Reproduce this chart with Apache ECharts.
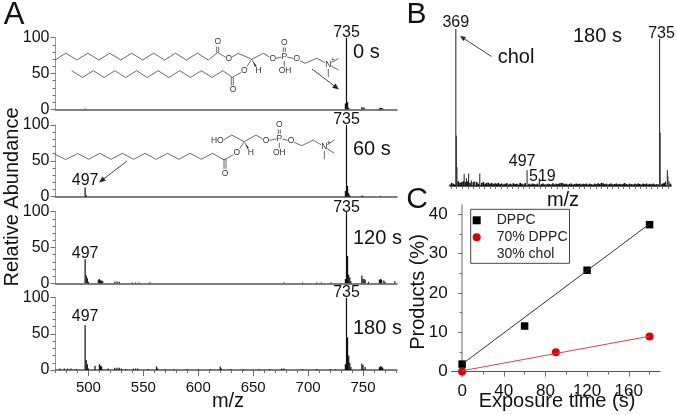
<!DOCTYPE html>
<html>
<head>
<meta charset="utf-8">
<script src="https://cdn.jsdelivr.net/npm/echarts@6/dist/echarts.min.js"></script>
<style>
  html, body { margin: 0; background: #fff; }
  #chart { width: 677px; height: 415px; }
</style>
</head>
<body>
<div id="chart"></div>
<script>
// panel A spectra, [m/z, relative abundance]
const spectrum0s = [[497, 1], [734, 8], [735, 100], [736, 10], [737, 2], [749, 3], [750, 2.5], [751, 2],
  [765, 1.5], [766, 2], [767, 1.8], [768, 1]];
const spectrum60s = [[497, 13], [498, 2], [734, 8], [735, 100], [736, 15], [737, 5], [738, 2], [749, 1.5], [750, 1], [766, 1]];
const spectrum120s = [[497, 33.5], [498, 11], [499, 7], [500, 2], [509, 5], [510, 6], [511, 4], [512, 4], [513, 3],
  [524, 2], [526, 2.5], [528, 2], [540, 1], [543, 1], [546, 1], [556, 1.5], [678, 1], [695, 1], [708, 1], [712, 1], [721, 1],
  [734, 6], [735, 100], [736, 38], [737, 12], [738, 8], [739, 3], [749, 11], [750, 6], [751, 6], [752, 5], [755, 2],
  [765, 5], [766, 6], [767, 5], [769, 4], [770, 2], [779, 3]];
const spectrum180s = [[474, 2], [478, 2], [481, 2], [484, 2], [489, 1.5], [497, 62], [498, 14], [499, 8], [500, 2],
  [506, 6], [510, 8], [511, 6], [512, 5], [518, 2], [524, 3], [526, 3], [528, 3], [530, 2], [534, 1.5], [541, 2], [543, 2], [545, 2],
  [554, 1.5], [562, 5], [563, 2], [570, 1], [578, 1], [590, 1], [600, 1], [611, 1], [620, 5], [621, 2], [630, 1], [641, 1], [655, 1], [665, 1],
  [676, 2], [678, 2], [695, 1], [708, 1.5], [720, 1.5], [725, 1], [734, 8], [735, 100], [736, 45], [737, 20], [738, 10], [739, 4],
  [749, 9], [750, 7], [752, 4], [765, 4], [766, 5], [767, 5], [768, 3]];
// panel B spectrum
const spectrumB = [[369, 100], [370, 32], [371, 12], [384, 7.6], [388, 5], [392, 8], [397, 3.5], [403, 3], [412, 8], [497, 10], [519, 5],
  [735, 94], [736, 34], [746, 3], [749, 10], [750, 6], [752, 3]];
const noiseB = [[358, 1], [361, 2], [364, 1.5], [367, 1], [373, 3], [376, 2], [379, 2.5], [382, 3], [386, 2.5], [390, 3], [394, 2], [400, 2.5],
  [406, 2.5], [409, 1.5], [415, 2], [418, 2.5], [421, 1.5], [424, 2], [427, 2.2], [430, 1.5], [433, 2], [436, 1.2], [439, 1.8], [442, 1.5], [445, 2],
  [448, 1.2], [451, 1.6], [454, 1], [457, 1.5], [460, 1.8], [463, 1], [466, 1.4], [469, 1], [472, 1.8], [475, 1.2], [478, 1.5], [481, 1], [484, 2],
  [487, 1.5], [490, 1], [493, 1.8], [500, 1.5], [503, 1], [506, 1.6], [509, 1.2], [512, 1], [515, 1.5], [522, 1.2], [525, 1.6], [528, 1], [531, 1],
  [534, 1.5], [537, 1.2], [540, 1], [543, 1.8], [546, 1], [549, 1.5], [552, 1.2], [555, 1.7], [558, 2], [561, 1.8], [564, 1.2], [567, 1.5], [570, 1],
  [573, 1.4], [576, 1.6], [579, 1], [582, 1.3], [585, 1.6], [588, 1.2], [591, 1.5], [594, 1], [597, 1.4], [600, 1.2], [603, 1.6], [606, 1],
  [609, 1.5], [612, 1.2], [615, 1], [618, 1.5], [621, 1.2], [624, 1.7], [627, 1.3], [630, 2], [633, 1.7], [636, 1.2], [639, 1.5], [642, 1], [645, 1.4],
  [648, 1.6], [651, 1], [654, 1.3], [657, 1.6], [660, 1.1], [663, 1.4], [666, 1], [669, 1.5], [672, 1.8], [675, 1.3], [678, 1], [681, 1.5], [684, 1.2],
  [687, 1], [690, 1.5], [693, 1.1], [696, 1.6], [699, 1.3], [702, 1], [705, 1.5], [708, 1.2], [711, 1.6], [714, 1], [717, 1.4], [720, 1.1], [723, 1.5],
  [726, 1], [729, 1.2], [732, 1], [739, 1.5], [742, 1.8], [744, 2], [754, 1.5]];
// panel C
const dppcTimes = [0, 60, 120, 180];
const dppcValues = [1.9, 11.6, 25.8, 37.4];
const cholTimes = [0, 90, 180];
const cholValues = [0, 4.9, 8.9];
const dppcFit = [[0, 1.9], [180, 37.6]];
const cholFit = [[0, 0.2], [180, 9]];

const massTicks = [500, 550, 600, 650, 700, 750];
const massMinorTicks = [470, 480, 490, 510, 520, 530, 540, 560, 570, 580, 590, 610, 620, 630, 640, 660, 670, 680, 690, 710, 720, 730, 740, 760, 770, 780];
const bMinorTicks = [360, 370, 380, 390, 400, 410, 420, 430, 440, 450, 460, 470, 480, 490, 500, 510, 520, 530, 540, 550, 560, 570, 580, 590,
  600, 610, 620, 630, 640, 650, 660, 670, 680, 690, 700, 710, 720, 730, 740, 750];
const timeTicks = [0, 40, 80, 120, 160];
const timeMinorTicks = [20, 60, 100, 140, 180];
const productTicks = [0, 10, 20, 30, 40];
const productMinorTicks = [5, 15, 25, 35];

const FONT = '"Liberation Sans", Arial, sans-serif';
const INK = '#111';
const AXIS = '#6e6e6e';

const rows = [
  { data: spectrum0s, top: 37.7, height: 71.6, labels: { 735: [0, 3] } },
  { data: spectrum60s, top: 125, height: 71.7, labels: { 497: [0, 1], 735: [0, 3] } },
  { data: spectrum120s, top: 211.7, height: 71.6, labels: { 497: [0, 2], 735: [0, 4] } },
  { data: spectrum180s, top: 297.7, height: 72.3, labels: { 497: [0, -1], 735: [0, 3] } }
];

function withLabels(data, labels) {
  return data.map(([x, y]) => {
    if (!labels[x]) return [x, y];
    return {
      value: [x, y],
      label: { show: true, position: 'top', distance: 0, offset: labels[x], formatter: String(x), fontFamily: FONT, fontSize: 16, color: INK }
    };
  });
}

const grid = [], xAxis = [], yAxis = [], series = [];

// panel A rows
rows.forEach((row, i) => {
  const last = i === rows.length - 1;
  grid.push({ left: 55.5, width: 341.5, top: row.top, height: row.height });
  xAxis.push({
    type: 'value', gridIndex: i, min: 470, max: 781, position: 'bottom', splitLine: { show: false },
    axisLine: { lineStyle: { color: '#555', width: 1.5 } },
    axisTick: last ? { show: true, customValues: massTicks, length: 6, lineStyle: { color: AXIS } } : { show: false },
    axisLabel: last ? { show: true, customValues: massTicks, margin: 10, fontFamily: FONT, fontSize: 15, color: INK } : { show: false }
  });
  yAxis.push({
    type: 'value', gridIndex: i, min: 0, max: 100, interval: 50, splitLine: { show: false },
    axisLine: { show: true, lineStyle: { color: '#999' } },
    axisTick: { show: true, length: 5, lineStyle: { color: AXIS } },
    minorTick: { show: true, splitNumber: 5, length: 3, lineStyle: { color: AXIS } },
    axisLabel: { margin: 6, fontFamily: FONT, fontSize: 16, color: INK }
  });
  series.push({
    type: 'bar', xAxisIndex: i, yAxisIndex: i, barWidth: 1.2, silent: true, animation: false,
    itemStyle: { color: '#111' }, data: withLabels(row.data, row.labels)
  });
});

// minor ticks under the bottom row
xAxis.push({
  type: 'value', gridIndex: 3, min: 470, max: 781, position: 'bottom', splitLine: { show: false },
  axisLine: { show: false }, axisLabel: { show: false },
  axisTick: { show: true, customValues: massMinorTicks, length: 3, lineStyle: { color: AXIS } }
});

// panel B
grid.push({ left: 450, width: 221, top: 29, height: 157 });
xAxis.push({
  type: 'value', gridIndex: 4, min: 358, max: 755, position: 'bottom', splitLine: { show: false },
  axisLine: { lineStyle: { color: '#222', width: 1.5 } }, axisLabel: { show: false },
  axisTick: { show: true, customValues: bMinorTicks, length: 3, lineStyle: { color: AXIS } }
});
yAxis.push({ type: 'value', gridIndex: 4, min: 0, max: 100, show: false });
series.push({
  type: 'bar', xAxisIndex: 5, yAxisIndex: 4, barWidth: 1.1, barGap: '-100%', silent: true, animation: false,
  itemStyle: { color: '#333' },
  data: withLabels(spectrumB, { 369: [0, 2], 497: [-5, -1], 519: [3, 6], 735: [2, 3] })
});
series.push({
  type: 'bar', xAxisIndex: 5, yAxisIndex: 4, barWidth: 1.7, barGap: '-100%', silent: true, animation: false,
  itemStyle: { color: '#111' }, data: noiseB
});

// panel C
grid.push({ left: 451.7, width: 208.3, top: 205, height: 171.7 });
const cx = { type: 'value', gridIndex: 5, min: -10, max: 190, position: 'bottom', splitLine: { show: false } };
const cy = { type: 'value', gridIndex: 5, min: -1.3, max: 42.4, position: 'left', splitLine: { show: false } };
xAxis.push(Object.assign({}, cx, {
  axisLine: { lineStyle: { color: '#555', width: 1.2 } },
  axisTick: { show: true, customValues: timeTicks, length: 5, lineStyle: { color: AXIS } },
  axisLabel: { show: true, customValues: timeTicks, margin: 6, fontFamily: FONT, fontSize: 17, color: INK }
}));
xAxis.push(Object.assign({}, cx, {
  axisLine: { show: false }, axisLabel: { show: false },
  axisTick: { show: true, customValues: timeMinorTicks, length: 3, lineStyle: { color: AXIS } }
}));
yAxis.push(Object.assign({}, cy, {
  axisLine: { show: true, lineStyle: { color: '#999', width: 1.5 } },
  axisTick: { show: true, customValues: productTicks, length: 4, lineStyle: { color: AXIS } },
  axisLabel: { show: true, customValues: productTicks, margin: 4, fontFamily: FONT, fontSize: 17, color: INK }
}));
yAxis.push(Object.assign({}, cy, {
  axisLine: { show: false }, axisLabel: { show: false },
  axisTick: { show: true, customValues: productMinorTicks, length: 2.5, lineStyle: { color: AXIS } }
}));
const cFit = (data, color) => ({
  type: 'line', xAxisIndex: 6, yAxisIndex: 5, data, symbol: 'none', silent: true, animation: false,
  lineStyle: { color, width: 1 }
});
series.push(cFit(dppcFit, '#333'));
series.push(cFit(cholFit, '#d0494a'));
series.push({
  name: 'DPPC', type: 'scatter', xAxisIndex: 6, yAxisIndex: 5, symbol: 'rect', symbolSize: 7.5, silent: true, animation: false,
  itemStyle: { color: '#000', opacity: 1 }, data: dppcTimes.map((t, i) => [t, dppcValues[i]])
});
series.push({
  name: '70% DPPC', type: 'scatter', xAxisIndex: 6, yAxisIndex: 5, symbol: 'circle', symbolSize: 8, silent: true, animation: false,
  itemStyle: { color: '#d7000f', opacity: 1 }, data: cholTimes.map((t, i) => [t, cholValues[i]])
});
// keeps the second line of the mixture name in the legend
series.push({ name: '30% chol', type: 'scatter', xAxisIndex: 6, yAxisIndex: 5, data: [], itemStyle: { color: 'transparent' } });

// structure drawings and annotations, page pixels
const bonds = [];
function bond(points, width) {
  bonds.push({ type: 'polyline', silent: true, z: 5, shape: { points }, style: { stroke: '#444', lineWidth: width || 0.8, fill: null } });
}
function zigzag(x, y, dx, dy, n) {
  const pts = [];
  for (let i = 0; i < n; i++) pts.push([x + i * dx, y + (i % 2 ? dy : 0)]);
  return pts;
}
function note(text, x, y, size, extra) {
  bonds.push({
    type: 'text', silent: true, z: 6, x, y,
    style: Object.assign({ text, font: size + 'px ' + FONT, fill: INK, align: 'center', verticalAlign: 'middle' }, extra)
  });
}
function atom(text, x, y, size) {
  note(text, x, y, size || 8.5, { fill: '#333', backgroundColor: '#fff' });
}
function arrow(x1, y1, x2, y2, head) {
  const a = Math.atan2(y2 - y1, x2 - x1);
  const h = head || 6;
  bond([[x1, y1], [x2 - Math.cos(a) * h * 0.7, y2 - Math.sin(a) * h * 0.7]], 1);
  bonds.push({
    type: 'polygon', silent: true, z: 5,
    shape: { points: [[x2, y2],
      [x2 - h * Math.cos(a - 0.4), y2 - h * Math.sin(a - 0.4)],
      [x2 - h * Math.cos(a + 0.4), y2 - h * Math.sin(a + 0.4)]] },
    style: { fill: '#222' }
  });
}
function wedge(x1, y1, x2, y2) {
  bonds.push({ type: 'polygon', silent: true, z: 5, shape: { points: [[x1, y1], [x2 - 1, y2], [x2 + 1, y2 - 0.5]] }, style: { fill: '#222' } });
}

// intact DPPC, row 0 s
bond(zigzag(55, 60, 10.95, -6.8, 15).concat([[217.7, 52.5], [228.7, 59], [238.3, 53.3], [251.7, 59.3], [263.3, 53.3], [272.7, 59], [284.3, 56.5], [296.7, 59], [305, 63.3], [316.7, 58.3], [328.3, 64.3]]));
bond([[216.7, 52.5], [216.7, 44]]);
bond([[218.7, 52.5], [218.7, 44]]);
bond(zigzag(71.7, 70.7, 10.8, 6.8, 15).concat([[232.3, 77.3], [244.3, 70.7], [251.7, 59.3]]));
bond([[231.3, 77.3], [231.3, 87]]);
bond([[233.3, 77.3], [233.3, 87]]);
bond([[283.3, 56.5], [283.3, 47]]);
bond([[285.3, 56.5], [285.3, 47]]);
bond([[284.3, 56.5], [284.3, 68]]);
bond([[328.3, 64.3], [338.5, 58.5]]);
bond([[328.3, 64.3], [338.5, 70]]);
bond([[328.3, 64.3], [328.3, 77]]);
wedge(251.7, 59.3, 256, 67);
atom('O', 217.7, 42);
atom('O', 228.7, 59);
atom('O', 233, 90);
atom('O', 244.3, 70.7);
atom('H', 258.5, 71);
atom('O', 272.7, 59);
atom('P', 284.3, 56.5);
atom('O', 284.3, 43);
atom('OH', 285, 71);
atom('O', 296.7, 59);
atom('N', 328.3, 64.3);
note('+', 333, 60.5, 6.5, { fill: '#333' });
arrow(312, 69, 339, 89.5, 7);

// lysolipid, row 60 s
bond(zigzag(55, 154.3, 10.7, 5.2, 3).concat(zigzag(77.3, 153.3, 11.28, 6, 13), [[224, 160], [236.7, 152.7], [244.3, 141.7]]));
bond([[224, 158.5], [224, 172]]);
bond([[226, 158.5], [226, 172]]);
bond([[222, 141], [231.7, 135], [244.3, 141.7], [256, 135], [266, 141], [279.3, 138.3], [291, 141], [301.7, 145.7], [313.3, 140], [324.3, 146.7]]);
bond([[278.3, 138.3], [278.3, 128]]);
bond([[280.3, 138.3], [280.3, 128]]);
bond([[279.3, 138.3], [279.3, 150]]);
bond([[324.3, 146.7], [334.3, 140]]);
bond([[324.3, 146.7], [334.3, 153.3]]);
bond([[324.3, 146.7], [324.3, 159.3]]);
wedge(244.3, 141.7, 249, 150);
atom('HO', 217.3, 141);
atom('O', 225, 173.3);
atom('O', 236.7, 152.7);
atom('H', 250.7, 152.7);
atom('O', 266, 141);
atom('P', 279.3, 138.3);
atom('O', 279.3, 125);
atom('OH', 279.3, 152.7);
atom('O', 291, 141);
atom('N', 324.3, 146.7);
note('+', 329, 143, 6.5, { fill: '#333' });
arrow(127, 161, 99, 182.5, 7);

// panel letters, spectrum times, axis titles
note('A', 14, 15, 31);
note('B', 416.5, 15, 30);
note('C', 417, 199.5, 30);
note('0 s', 353, 52, 20, { align: 'left' });
note('60 s', 353, 149, 20, { align: 'left' });
note('120 s', 353, 238, 20, { align: 'left' });
note('180 s', 353, 328, 20, { align: 'left' });
note('180 s', 573, 36, 20, { align: 'left' });
note('chol', 516, 57, 20);
note('m/z', 228, 401, 20);
note('m/z', 563, 200, 20);
note('Exposure time (s)', 557, 401.5, 20);
bonds.push({ type: 'text', silent: true, x: 12.5, y: 197, rotation: Math.PI / 2, style: { text: 'Relative Abundance', font: '20px ' + FONT, fill: INK, align: 'center', verticalAlign: 'middle' } });
bonds.push({ type: 'text', silent: true, x: 418, y: 292, rotation: Math.PI / 2, style: { text: 'Products (%)', font: '20px ' + FONT, fill: INK, align: 'center', verticalAlign: 'middle' } });
arrow(491.5, 56.5, 460, 36, 6);

const chart = echarts.init(document.getElementById('chart'), null, { renderer: 'canvas' });
chart.setOption({
  animation: false,
  backgroundColor: '#fff',
  grid, xAxis, yAxis, series,
  legend: {
    left: 470.7, top: 209.3, orient: 'vertical', selectedMode: false,
    backgroundColor: '#fff', borderColor: '#444', borderWidth: 1,
    padding: [4, 2, 2, 2], itemGap: 3, itemWidth: 8, itemHeight: 8,
    textStyle: { fontFamily: FONT, fontSize: 14, color: '#222', padding: [0, 0, 0, 11] },
    data: [
      { name: 'DPPC', icon: 'rect' },
      { name: '70% DPPC', icon: 'circle' },
      { name: '30% chol', icon: 'rect' }
    ]
  },
  graphic: bonds
});
</script>
</body>
</html>
